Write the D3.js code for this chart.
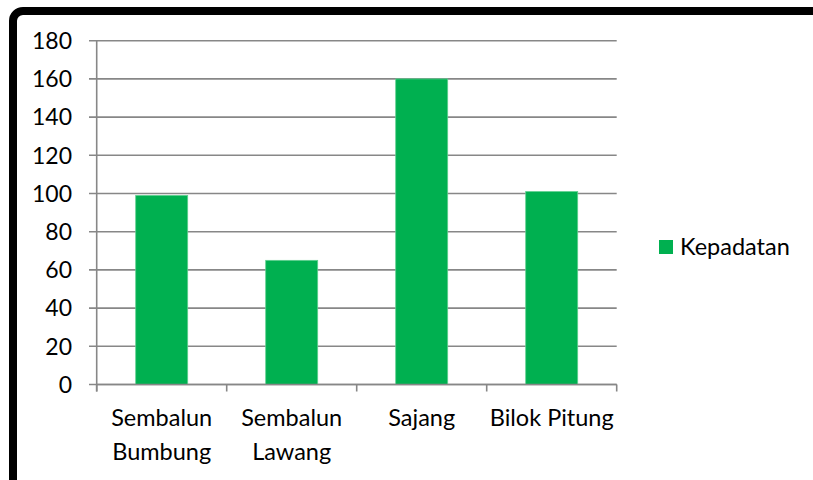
<!DOCTYPE html>
<html><head><meta charset="utf-8">
<script src="https://cdn.jsdelivr.net/npm/d3@7"></script>
<style>html,body{margin:0;padding:0;background:#fff;}svg{display:block;}</style>
</head><body>
<svg id="c" width="813" height="480"></svg>
<script>
const categories = [["Sembalun","Bumbung"],["Sembalun","Lawang"],["Sajang"],["Bilok Pitung"]];
const values = [99, 65, 160, 101];
const seriesName = "Kepadatan";
const yTicks = [0,20,40,60,80,100,120,140,160,180];

(function(){
const svg = d3.select("#c");
const font = "Lato, 'Open Sans', sans-serif";
const fs = 23.5;
svg.append("rect").attr("x",0).attr("y",0).attr("width",813).attr("height",480).attr("fill","#fff");
svg.append("rect").attr("x",13).attr("y",11).attr("width",1000).attr("height",700)
  .attr("rx",10).attr("fill","#fff").attr("stroke","#000").attr("stroke-width",8);

const pL = 96.7, pR = 616.7, pT = 40.7, pB = 384.5;
const x = d3.scaleBand().domain(d3.range(categories.length)).range([pL,pR]).paddingInner(0.6).paddingOuter(0.3);
const y = d3.scaleLinear().domain([0,180]).range([pB,pT]);

svg.append("g").selectAll("line").data(yTicks).join("line")
  .attr("x1",89).attr("x2",pR).attr("y1",d=>y(d)).attr("y2",d=>y(d))
  .attr("stroke","#878787").attr("stroke-width",1.6);

svg.append("g").selectAll("rect").data(values).join("rect")
  .attr("x",(d,i)=>x(i)).attr("width",x.bandwidth())
  .attr("y",d=>y(d)).attr("height",d=>pB-y(d))
  .attr("fill","#00B050").attr("stroke","#5fd08f").attr("stroke-width",0.8);

svg.append("line").attr("x1",pL).attr("x2",pL).attr("y1",pT).attr("y2",pB+7)
  .attr("stroke","#878787").attr("stroke-width",1.6);
svg.append("line").attr("x1",pL).attr("x2",pR).attr("y1",pB).attr("y2",pB)
  .attr("stroke","#878787").attr("stroke-width",1.6);
const step = (pR-pL)/categories.length;
svg.append("g").selectAll("line").data(d3.range(categories.length+1)).join("line")
  .attr("x1",i=>pL+i*step).attr("x2",i=>pL+i*step).attr("y1",pB).attr("y2",pB+7)
  .attr("stroke","#878787").attr("stroke-width",1.6);

svg.append("g").selectAll("text").data(yTicks).join("text")
  .attr("x",72).attr("y",d=>y(d)).attr("dy","0.36em").attr("text-anchor","end")
  .attr("font-family",font).attr("font-size",23).attr("fill","#000").text(d=>d);

const xl = svg.append("g").selectAll("text").data(categories).join("text")
  .attr("x",(d,i)=>x(i)+x.bandwidth()/2).attr("y",426).attr("text-anchor","middle")
  .attr("font-family",font).attr("font-size",fs).attr("fill","#000");
xl.selectAll("tspan").data(d=>d).join("tspan")
  .attr("x",function(){return this.parentNode.getAttribute("x");})
  .attr("dy",(d,i)=>i===0?0:34).text(d=>d);

svg.append("rect").attr("x",659).attr("y",240).attr("width",14).attr("height",14).attr("fill","#00B050");
svg.append("text").attr("x",680).attr("y",247).attr("dy","0.35em").attr("font-family",font)
  .attr("font-size",fs).attr("fill","#000").text(seriesName);
})();
</script>
</body></html>
